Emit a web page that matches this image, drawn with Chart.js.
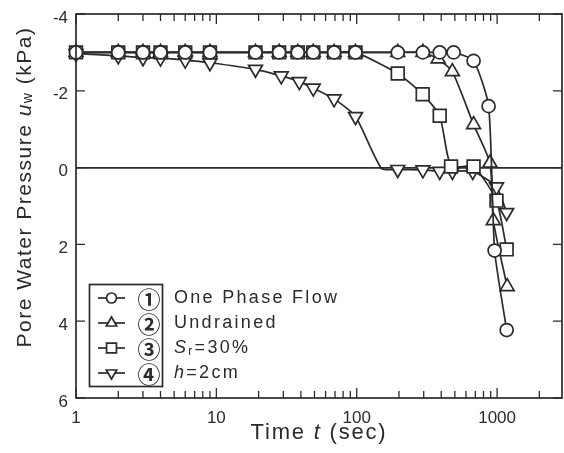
<!DOCTYPE html>
<html><head><meta charset="utf-8">
<script src="https://cdn.jsdelivr.net/npm/chart.js@4/dist/chart.umd.min.js"></script>
<style>html,body{margin:0;padding:0;background:#fff;}#wrap{width:564px;height:453px;position:relative;}</style>
</head><body><div id="wrap"><canvas id="c"></canvas></div>
<script>
// ---- data ----
const xTickValues = [1, 10, 100, 1000];
const yTickValues = [-4, -2, 0, 2, 4, 6];
const seriesNames = ['One Phase Flow', 'Undrained', 'Sr=30%', 'h=2cm'];
const seriesNumbers = ['\u2460', '\u2461', '\u2462', '\u2463'];

const s1Time = [1, 2, 3, 4, 6, 9, 19, 28, 38, 49, 69, 98, 196, 296, 390, 490, 680, 870, 960, 1170];
const s1Uw   = [-3, -3, -3, -3, -3, -3, -3, -3, -3, -3, -3, -3, -3, -3, -3, -3, -2.78, -1.6, 2.16, 4.23];
const s1Mark = [1, 1, 1, 1, 1, 1, 1, 1, 1, 1, 1, 1, 1, 1, 1, 1, 1, 1, 1, 1];

const s2Time = [1, 2, 3, 4, 6, 9, 19, 28, 38, 49, 69, 98, 196, 296, 380, 480, 680, 890, 940, 1180];
const s2Uw   = [-3, -3, -3, -3, -3, -3, -3, -3, -3, -3, -3, -3, -3, -3, -2.83, -2.5, -1.12, -0.12, 1.38, 3.1];
const s2Mark = [1, 1, 1, 1, 1, 1, 1, 1, 1, 1, 1, 1, 1, 1, 1, 1, 1, 1, 1, 1];

const s3Time = [1, 2, 3, 4, 6, 9, 19, 28, 38, 49, 69, 98, 196, 295, 390, 470, 680, 990, 1170];
const s3Uw   = [-3, -3, -3, -3, -3, -3, -3, -3, -3, -3, -3, -3, -2.45, -1.91, -1.35, -0.03, -0.03, 0.86, 2.13];
const s3Mark = [1, 1, 1, 1, 1, 1, 1, 1, 1, 1, 1, 1, 1, 1, 1, 1, 1, 1, 1];

const s4Time = [1, 2, 3, 4, 6, 9, 19, 29, 39, 49, 69, 98, 150, 196, 296, 390, 480, 670, 990, 1170];
const s4Uw   = [-2.97, -2.91, -2.86, -2.85, -2.8, -2.73, -2.56, -2.39, -2.24, -2.07, -1.79, -1.33, 0.02, 0.05, 0.06, 0.1, 0.1, 0.1, 0.5, 1.17];
const s4Mark = [1, 1, 1, 1, 1, 1, 1, 1, 1, 1, 1, 1, 0, 1, 1, 1, 1, 1, 1, 1];

// ---- styling ----
const FONT = "'Liberation Sans', Arial, sans-serif";
const INK = '#2b2b2b';
const styles = [
  {pointStyle: 'circle', rotation: 0, radius: 6.5, legendRadius: 5},
  {pointStyle: 'triangle', rotation: 0, radius: 8, legendRadius: 6},
  {pointStyle: 'rect', rotation: 0, radius: 9, legendRadius: 7},
  {pointStyle: 'triangle', rotation: 180, radius: 8, legendRadius: 6}
];
const sets = [[s1Time, s1Uw, s1Mark], [s2Time, s2Uw, s2Mark], [s3Time, s3Uw, s3Mark], [s4Time, s4Uw, s4Mark]];

const datasets = sets.map((s, i) => ({
  label: seriesNames[i],
  data: s[0].map((t, k) => ({x: t, y: s[1][k]})),
  borderColor: INK,
  backgroundColor: '#fff',
  borderWidth: 1.7,
  pointStyle: styles[i].pointStyle,
  rotation: styles[i].rotation,
  pointRadius: ctx => (s[2][ctx.dataIndex] ? styles[i].radius : 0),
  pointBorderWidth: 1.7,
  pointBorderColor: INK,
  pointBackgroundColor: '#fff',
  tension: 0.2,
  clip: false
}));

function drawRuns(ctx, runs, x, y, align, spacing) {
  ctx.save();
  ctx.letterSpacing = spacing + 'px';
  ctx.textBaseline = 'middle';
  ctx.textAlign = 'left';
  let w = 0;
  runs.forEach(r => { ctx.font = r.font; w += ctx.measureText(r.t).width; });
  let cx = align === 'center' ? x - w / 2 : x;
  runs.forEach(r => {
    ctx.font = r.font;
    ctx.fillText(r.t, cx, y + (r.dy || 0));
    cx += ctx.measureText(r.t).width;
  });
  ctx.restore();
}

const decor = {
  id: 'decor',
  afterDatasetsDraw(chart) {
    const ctx = chart.ctx, a = chart.chartArea;
    const xs = chart.scales.x, ys = chart.scales.y;
    ctx.save();
    ctx.strokeStyle = INK;
    ctx.lineWidth = 1.7;
    ctx.strokeRect(a.left, a.top, a.right - a.left, a.bottom - a.top);
    // inward ticks
    ctx.lineWidth = 1.3;
    ctx.beginPath();
    for (let d = 1; d <= 1000; d *= 10) {
      for (let m = 1; m <= 9; m++) {
        const v = d * m;
        if (v < xs.min || v > xs.max) continue;
        const px = xs.getPixelForValue(v);
        const len = m === 1 ? 10 : 7;
        ctx.moveTo(px, a.bottom); ctx.lineTo(px, a.bottom - len);
        ctx.moveTo(px, a.top); ctx.lineTo(px, a.top + len);
      }
    }
    yTickValues.forEach(v => {
      const py = ys.getPixelForValue(v);
      ctx.moveTo(a.left, py); ctx.lineTo(a.left + 9, py);
      ctx.moveTo(a.right, py); ctx.lineTo(a.right - 9, py);
    });
    ctx.stroke();
    ctx.restore();
  },
  afterDraw(chart) {
    const ctx = chart.ctx, a = chart.chartArea;
    ctx.save();
    ctx.fillStyle = INK;
    // x title
    drawRuns(ctx, [
      {t: 'Time ', font: `22px ${FONT}`},
      {t: 't', font: `italic 22px ${FONT}`},
      {t: ' (sec)', font: `22px ${FONT}`}
    ], (a.left + a.right) / 2, 433, 'center', 1.8);
    // y title
    ctx.save();
    ctx.translate(25, 187);
    ctx.rotate(-Math.PI / 2);
    drawRuns(ctx, [
      {t: 'Pore Water Pressure ', font: `21px ${FONT}`},
      {t: 'u', font: `italic 21px ${FONT}`},
      {t: 'w', font: `14px ${FONT}`, dy: 3},
      {t: ' (kPa)', font: `21px ${FONT}`}
    ], 0, 0, 'center', 1.5);
    ctx.restore();
    // legend
    const bx = 89.5, by = 284.5, bw = 73, bh = 102;
    ctx.fillStyle = '#fff';
    ctx.fillRect(bx, by, bw, bh);
    ctx.strokeStyle = INK;
    ctx.lineWidth = 1.7;
    ctx.strokeRect(bx, by, bw, bh);
    const labelRuns = [
      [{t: seriesNames[0], font: `18px ${FONT}`}],
      [{t: seriesNames[1], font: `18px ${FONT}`}],
      [{t: 'S', font: `italic 18px ${FONT}`}, {t: 'r', font: `12px ${FONT}`, dy: 4}, {t: '=30%', font: `18px ${FONT}`}],
      [{t: 'h', font: `italic 18px ${FONT}`}, {t: '=2cm', font: `18px ${FONT}`}]
    ];
    for (let i = 0; i < 4; i++) {
      const y = 298 + 25 * i;
      ctx.strokeStyle = INK;
      ctx.lineWidth = 1.7;
      ctx.beginPath(); ctx.moveTo(98, y); ctx.lineTo(125, y); ctx.stroke();
      ctx.fillStyle = '#fff';
      Chart.helpers.drawPoint(ctx, {pointStyle: styles[i].pointStyle, rotation: styles[i].rotation, radius: styles[i].legendRadius, borderWidth: 1.7}, 111.5, y);
      ctx.fillStyle = INK;
      ctx.font = `bold 23px 'Noto Sans CJK JP'`;
      ctx.textAlign = 'center';
      ctx.textBaseline = 'middle';
      ctx.fillText(seriesNumbers[i], 149, y + 1);
      drawRuns(ctx, labelRuns[i], 174, y, 'left', 2.3);
    }
    ctx.restore();
  }
};

new Chart(document.getElementById('c'), {
  type: 'line',
  data: {datasets},
  plugins: [decor],
  options: {
    responsive: true,
    maintainAspectRatio: false,
    devicePixelRatio: 1,
    animation: false,
    layout: {autoPadding: false, padding: {left: 0, right: 2, top: 14, bottom: 0}},
    plugins: {legend: {display: false}, tooltip: {enabled: false}},
    scales: {
      x: {
        type: 'logarithmic', min: 1, max: 2900,
        afterBuildTicks: s => { s.ticks = xTickValues.map(v => ({value: v})); },
        afterFit: s => { s.height = 55; s.paddingLeft = 0; s.paddingRight = 0; },
        grid: {display: false, drawTicks: false},
        border: {display: false},
        ticks: {color: INK, font: {family: FONT, size: 17}, padding: 10, maxRotation: 0, autoSkip: false, callback: v => String(v)}
      },
      y: {
        type: 'linear', min: -4, max: 6, reverse: true,
        afterBuildTicks: s => { s.ticks = yTickValues.map(v => ({value: v})); },
        afterFit: s => { s.width = 76; s.paddingTop = 0; s.paddingBottom = 0; },
        grid: {drawTicks: false, lineWidth: 1.7, color: c => (c.tick && c.tick.value === 0 ? INK : 'rgba(0,0,0,0)')},
        border: {display: false},
        ticks: {color: INK, font: {family: FONT, size: 17}, padding: 8, labelOffset: 4, callback: v => String(v)}
      }
    }
  }
});
</script>
</body></html>
